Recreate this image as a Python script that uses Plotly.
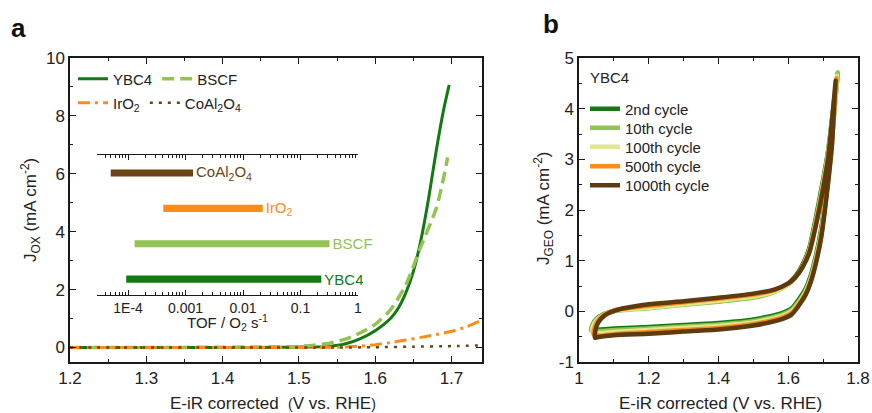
import plotly.graph_objects as go

# ---------------- data: panel a (LSV) ----------------
ybc4_v = [1.20, 1.30, 1.40, 1.48, 1.52, 1.54, 1.56, 1.58, 1.60, 1.62, 1.63, 1.64, 1.65, 1.66, 1.67, 1.68, 1.69, 1.697]
ybc4_j = [0.00, 0.00, 0.00, 0.01, 0.02, 0.04, 0.12, 0.30, 0.58, 1.00, 1.35, 1.88, 2.62, 3.72, 5.15, 6.80, 8.25, 9.07]

bscf_v = [1.20, 1.30, 1.40, 1.46, 1.50, 1.52, 1.54, 1.56, 1.58, 1.60, 1.62, 1.64, 1.66, 1.68, 1.69, 1.695]
bscf_j = [0.00, 0.00, 0.01, 0.02, 0.04, 0.08, 0.15, 0.28, 0.50, 0.80, 1.30, 2.15, 3.50, 4.80, 5.90, 6.57]

iro2_v = [1.20, 1.30, 1.40, 1.50, 1.55, 1.58, 1.60, 1.62, 1.64, 1.66, 1.68, 1.70, 1.72, 1.74, 1.75]
iro2_j = [0.00, 0.00, 0.00, 0.00, 0.01, 0.05, 0.10, 0.17, 0.26, 0.35, 0.45, 0.56, 0.72, 0.95, 1.08]

coal_v = [1.20, 1.40, 1.55, 1.60, 1.65, 1.70, 1.75]
coal_j = [0.00, 0.00, 0.00, 0.01, 0.03, 0.05, 0.08]

# ---------------- data: inset (TOF ranges) ----------------
tof_materials = ["YBC4", "BSCF", "IrO2", "CoAl2O4"]
tof_labels = ["YBC4", "BSCF", "IrO<sub>2</sub>", "CoAl<sub>2</sub>O<sub>4</sub>"]
tof_low = [9.3e-5, 1.3e-4, 4.1e-4, 5.0e-5]
tof_high = [0.23, 0.32, 0.022, 1.35e-3]
tof_ticks = [1e-4, 1e-3, 1e-2, 1e-1, 1]
tof_ticktext = ["1E-4", "0.001", "0.01", "0.1", "1"]

# ---------------- data: panel b (CV cycles) ----------------
cv_v_2nd = [1.036, 1.040, 1.050, 1.070, 1.10, 1.20, 1.30, 1.40, 1.50, 1.56, 1.60, 1.62, 1.64, 1.66, 1.68, 1.70, 1.715, 1.730, 1.742,
            1.738, 1.725, 1.71, 1.695, 1.68, 1.665, 1.65, 1.63, 1.61, 1.58, 1.50, 1.40, 1.30, 1.20, 1.10, 1.06, 1.036]
cv_j_2nd = [-0.36, -0.25, -0.15, -0.06, 0.01, 0.08, 0.14, 0.20, 0.28, 0.40, 0.55, 0.69, 0.91, 1.24, 1.88, 2.60, 3.20, 4.05, 4.70,
            4.40, 3.45, 2.45, 1.65, 1.12, 0.72, 0.45, 0.23, 0.06, -0.04, -0.16, -0.23, -0.27, -0.31, -0.34, -0.36, -0.36]

cv_v_10th = [1.034, 1.039, 1.050, 1.070, 1.10, 1.20, 1.30, 1.40, 1.50, 1.56, 1.60, 1.62, 1.64, 1.66, 1.68, 1.70, 1.715, 1.730, 1.742,
             1.738, 1.725, 1.71, 1.695, 1.68, 1.665, 1.65, 1.63, 1.61, 1.58, 1.50, 1.40, 1.30, 1.20, 1.10, 1.06, 1.034]
cv_j_10th = [-0.38, -0.27, -0.16, -0.07, 0.00, 0.06, 0.13, 0.19, 0.27, 0.38, 0.53, 0.67, 0.88, 1.20, 1.82, 2.55, 3.18, 4.05, 4.72,
             4.40, 3.40, 2.40, 1.60, 1.07, 0.68, 0.41, 0.19, 0.03, -0.07, -0.19, -0.26, -0.30, -0.34, -0.37, -0.39, -0.38]

cv_v_100th = [1.038, 1.041, 1.051, 1.070, 1.10, 1.20, 1.30, 1.40, 1.50, 1.56, 1.60, 1.62, 1.64, 1.66, 1.68, 1.70, 1.715, 1.730, 1.740,
              1.737, 1.725, 1.71, 1.695, 1.68, 1.665, 1.65, 1.63, 1.61, 1.58, 1.50, 1.40, 1.30, 1.20, 1.10, 1.06, 1.038]
cv_j_100th = [-0.40, -0.29, -0.17, -0.07, 0.01, 0.07, 0.14, 0.21, 0.29, 0.39, 0.53, 0.66, 0.87, 1.18, 1.78, 2.50, 3.12, 4.00, 4.65,
              4.35, 3.35, 2.35, 1.55, 1.04, 0.64, 0.38, 0.16, 0.00, -0.10, -0.22, -0.29, -0.33, -0.37, -0.41, -0.43, -0.40]

cv_v_500th = [1.042, 1.044, 1.053, 1.072, 1.10, 1.20, 1.30, 1.40, 1.50, 1.56, 1.60, 1.62, 1.64, 1.66, 1.68, 1.70, 1.715, 1.730, 1.738,
              1.735, 1.725, 1.71, 1.695, 1.68, 1.665, 1.65, 1.63, 1.61, 1.58, 1.50, 1.40, 1.30, 1.20, 1.10, 1.06, 1.042]
cv_j_500th = [-0.46, -0.33, -0.19, -0.07, 0.02, 0.11, 0.18, 0.25, 0.33, 0.42, 0.55, 0.67, 0.87, 1.17, 1.76, 2.47, 3.10, 3.98, 4.60,
              4.30, 3.30, 2.32, 1.52, 1.00, 0.61, 0.35, 0.14, -0.03, -0.13, -0.25, -0.33, -0.37, -0.41, -0.45, -0.48, -0.46]

cv_v_1000th = [1.046, 1.047, 1.055, 1.074, 1.11, 1.20, 1.30, 1.40, 1.50, 1.56, 1.60, 1.62, 1.64, 1.66, 1.68, 1.70, 1.715, 1.728, 1.736,
               1.733, 1.725, 1.71, 1.695, 1.68, 1.665, 1.65, 1.63, 1.61, 1.58, 1.50, 1.40, 1.30, 1.20, 1.10, 1.06, 1.046]
cv_j_1000th = [-0.52, -0.38, -0.22, -0.08, 0.03, 0.14, 0.20, 0.27, 0.35, 0.43, 0.55, 0.67, 0.86, 1.15, 1.72, 2.42, 3.05, 3.95, 4.55,
               4.25, 3.25, 2.28, 1.48, 0.97, 0.59, 0.33, 0.11, -0.06, -0.16, -0.28, -0.36, -0.40, -0.44, -0.47, -0.50, -0.52]

cycle_names = ["2nd cycle", "10th cycle", "100th cycle", "500th cycle", "1000th cycle"]

# ---------------- styling ----------------
W, H = 872, 413
FONT = "Arial, Liberation Sans, Helvetica, sans-serif"
C_DG = "#137a13"
C_LG = "#92c353"
C_YG = "#dfe88a"
C_OR = "#ff8c1a"
C_BR = "#5e3a0e"
C_BR2 = "#6b4314"
AX = "#1a1a1a"

def fx(p):
    return p / W

def fy(p):
    return 1 - p / H

fig = go.Figure()

# panel a lines
fig.add_trace(go.Scatter(x=ybc4_v, y=ybc4_j, name="YBC4", mode="lines", line=dict(color=C_DG, width=3, shape="spline", smoothing=0.6),
                         xaxis="x", yaxis="y", legend="legend"))
fig.add_trace(go.Scatter(x=bscf_v, y=bscf_j, name="BSCF", mode="lines", line=dict(color=C_LG, width=3.5, dash="12px,6px", shape="spline", smoothing=0.6),
                         xaxis="x", yaxis="y", legend="legend"))
fig.add_trace(go.Scatter(x=iro2_v, y=iro2_j, name="IrO<sub>2</sub>", mode="lines", line=dict(color=C_OR, width=3, dash="12px,5px,3px,5px", shape="spline", smoothing=0.6),
                         xaxis="x", yaxis="y", legend="legend2"))
fig.add_trace(go.Scatter(x=coal_v, y=coal_j, name="CoAl<sub>2</sub>O<sub>4</sub>", mode="lines", line=dict(color=C_BR2, width=2.5, dash="3px,6px", shape="spline", smoothing=0.6),
                         xaxis="x", yaxis="y", legend="legend2"))

# inset bars
tof_colors = [C_DG, C_LG, C_OR, C_BR2]
fig.add_trace(go.Bar(y=tof_materials, x=[h - l for h, l in zip(tof_high, tof_low)], base=tof_low, orientation="h",
                     width=0.2, marker=dict(color=tof_colors, line=dict(width=0)),
                     text=tof_labels, textposition="outside", cliponaxis=False, constraintext="none",
                     textfont=dict(color=tof_colors, size=15, family=FONT),
                     xaxis="x3", yaxis="y3", showlegend=False, hoverinfo="skip"))

# panel b CV cycles
cv_vs = [cv_v_2nd, cv_v_10th, cv_v_100th, cv_v_500th, cv_v_1000th]
cv_js = [cv_j_2nd, cv_j_10th, cv_j_100th, cv_j_500th, cv_j_1000th]
cv_colors = [C_DG, C_LG, C_YG, C_OR, C_BR]
for i in range(5):
    fig.add_trace(go.Scatter(x=cv_vs[i], y=cv_js[i], name=cycle_names[i], mode="lines",
                             line=dict(color=cv_colors[i], width=4.5, shape="spline", smoothing=0.6),
                             xaxis="x2", yaxis="y2", legend="legend%d" % (i + 3)))

ydom = [fy(362), fy(58)]
tickfont = dict(family=FONT, size=17, color="#222")

def main_axis(**kw):
    d = dict(showline=True, linecolor=AX, linewidth=1.5, mirror="ticks", ticks="inside", ticklen=6, tickwidth=1.3,
             tickcolor=AX, tickfont=tickfont, zeroline=False, showgrid=False, automargin=False)
    d.update(kw)
    return d

minor_main = lambda dt: dict(dtick=dt, ticks="inside", ticklen=3.5, tickwidth=1.2, tickcolor=AX, showgrid=False)

legend_common = dict(bgcolor="rgba(0,0,0,0)", borderwidth=0, font=dict(family=FONT, size=15, color="#222"),
                     xanchor="left", yanchor="middle")

layout = dict(
    width=W, height=H, margin=dict(l=0, r=0, t=0, b=0, autoexpand=False),
    paper_bgcolor="white", plot_bgcolor="rgba(0,0,0,0)",
    font=dict(family=FONT, color="#222"),
    showlegend=True, barmode="overlay",
    xaxis=main_axis(domain=[fx(70), fx(482)], range=[1.2, 1.74], dtick=0.1, tick0=1.2, anchor="y", minor=minor_main(0.05)),
    yaxis=main_axis(domain=ydom, range=[-0.5, 10], dtick=2, tick0=0, anchor="x", minor=minor_main(1)),
    xaxis2=main_axis(domain=[fx(579), fx(858)], range=[1.0, 1.8], dtick=0.2, tick0=1.0, anchor="y2", minor=minor_main(0.1)),
    yaxis2=main_axis(domain=ydom, range=[-1, 5], tickvals=[-1, 0, 1, 2, 3, 4, 5], ticktext=["-1", "0", "1", "2", "3", "4", "5"],
                     anchor="x2", minor=minor_main(0.5)),
    xaxis3=dict(type="log", domain=[fx(97), fx(358)], range=[-4.54, 0], anchor="y3", automargin=False,
                showline=True, linecolor=AX, linewidth=1.3, mirror="ticks", ticks="inside", ticklen=5, tickwidth=1.2,
                tickcolor=AX, tickvals=tof_ticks, ticktext=tof_ticktext, tickfont=dict(family=FONT, size=14, color="#222"),
                showgrid=False, zeroline=False,
                minor=dict(ticks="inside", ticklen=3, tickwidth=1, tickcolor=AX, showgrid=False,
                           tickvals=[m * 10 ** e for e in range(-5, 0) for m in range(2, 10)])),
    yaxis3=dict(type="category", categoryorder="array", categoryarray=tof_materials, domain=[fy(295), fy(155)],
                range=[-0.45, 3.51], anchor="x3", visible=False, automargin=False),
    legend=dict(legend_common, x=fx(73), y=fy(79), orientation="h"),
    legend2=dict(legend_common, x=fx(73), y=fy(103), orientation="h"),
)
for i, yy in enumerate([109, 128, 147, 166.5, 185.5]):
    layout["legend%d" % (i + 3)] = dict(legend_common, x=fx(585), y=fy(yy))

ann_font = dict(family=FONT, size=17, color="#222")

def ann(text, x, y, font, **kw):
    d = dict(text=text, x=fx(x), y=fy(y), xref="paper", yref="paper", showarrow=False,
             xanchor="center", yanchor="middle", font=font)
    d.update(kw)
    return d

layout["annotations"] = [
    ann("<b>a</b>", 18, 28, dict(family=FONT, size=26, color="#111")),
    ann("<b>b</b>", 551, 24, dict(family=FONT, size=26, color="#111")),
    ann("J<sub>OX</sub> (mA cm<sup>-2</sup>)", 30, 210, ann_font, textangle=-90),
    ann("J<sub>GEO</sub> (mA cm<sup>-2</sup>)", 543, 208, ann_font, textangle=-90),
    ann("E-iR corrected  <span style='font-size:14px'>(</span>V vs. RHE<span style='font-size:14px'>)</span>", 273, 403, ann_font),
    ann("E-iR corrected (V vs. RHE)", 720, 403, ann_font),
    ann("TOF / O<sub>2</sub> s<sup>-1</sup>", 227, 322, dict(family=FONT, size=15, color="#222")),
    ann("YBC4", 588, 78, dict(family=FONT, size=15, color="#222"), xanchor="left"),
]

fig.update_layout(**layout)
fig.write_html("out.html", config={"displayModeBar": False},
               post_script="document.body.style.margin='0';document.body.style.padding='0';")
